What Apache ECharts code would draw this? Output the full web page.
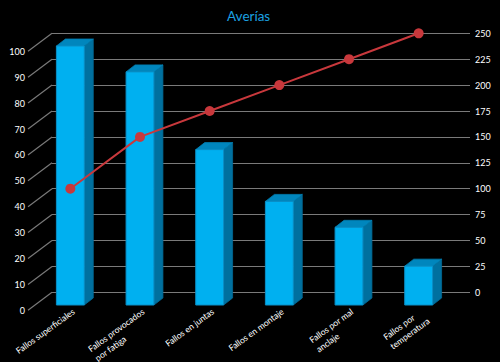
<!DOCTYPE html>
<html><head><meta charset="utf-8">
<script src="https://cdn.jsdelivr.net/npm/echarts@6/dist/echarts.min.js"></script>
<style>html,body{margin:0;background:#000}#c{width:500px;height:362px}</style>
</head><body><div id="c"></div>
<script>
const categories = ['Fallos superficiales', 'Fallos provocados\npor fatiga', 'Fallos en juntas', 'Fallos en montaje', 'Fallos por mal\nanclaje', 'Fallos por\ntemperatura'];
const barValues = [100, 90, 60, 40, 30, 15];
const lineValues = [100, 150, 175, 200, 225, 250];
const leftTicks = [0, 10, 20, 30, 40, 50, 60, 70, 80, 90, 100];

const FONT = 'Lato';
const chart = echarts.init(document.getElementById('c'), null, {renderer: 'svg'});
const hiddenCat = (g) => ({type: 'category', gridIndex: g, data: categories, show: false});
const g = (o) => Object.assign({containLabel: false, outerBoundsMode: 'none'}, o);
chart.setOption({
  backgroundColor: '#000',
  animation: false,
  title: {text: 'Averías', left: 222, top: 4, textStyle: {color: '#1ba1e2', fontSize: 13.5, fontWeight: 'normal', fontFamily: FONT}},
  grid: [
    g({left: 52, right: 30, top: 33.3, bottom: 69.7}),
    g({left: 28, right: 54, top: 51.3, bottom: 51.7}),
    g({left: 35.5, right: 46.5, top: 46, bottom: 57}),
    g({left: 35.5, right: 46.5, top: 33.3, bottom: 69.7})
  ],
  xAxis: [
    hiddenCat(0),
    {type: 'value', gridIndex: 1, show: false},
    {type: 'category', gridIndex: 2, data: categories,
      axisLine: {show: false}, axisTick: {show: false},
      axisLabel: {interval: 0, rotate: 36, margin: 1, align: 'right', verticalAlign: 'top',
        color: '#fff', fontSize: 8.6, fontFamily: FONT,
        formatter: (v) => v.split('\n').map(s => '{l|' + s + '}').join('\n'),
        rich: {l: {align: 'left', color: '#fff', fontSize: 8.6, fontFamily: FONT, lineHeight: 11.5}}}},
    hiddenCat(3)
  ],
  yAxis: [
    {type: 'value', gridIndex: 0, position: 'right', min: 0, max: 250, interval: 25,
      axisLine: {show: false}, axisTick: {show: false},
      axisLabel: {margin: 5, color: '#fff', fontSize: 9, fontFamily: FONT},
      splitLine: {lineStyle: {color: '#7a7a7a', width: 1.2}}},
    {type: 'value', gridIndex: 0, min: 0, max: 100, show: false},
    {type: 'value', gridIndex: 1, min: 0, max: 100, interval: 10,
      axisLine: {show: false}, axisTick: {show: false}, splitLine: {show: false},
      axisLabel: {margin: 3, color: '#fff', fontSize: 9, fontFamily: FONT}},
    {type: 'value', gridIndex: 2, min: 0, max: 100, show: false},
    {type: 'value', gridIndex: 3, min: 0, max: 250, show: false}
  ],
  series: [
    {type: 'custom', xAxisIndex: 0, yAxisIndex: 1, silent: true, z: 1,
      data: leftTicks.map(t => [0, t]),
      renderItem(params, api) {
        const y = api.coord([0, api.value(1)])[1];
        const x = params.coordSys.x;
        return {type: 'line', shape: {x1: x - 24, y1: y + 18, x2: x, y2: y}, style: {stroke: '#7a7a7a', lineWidth: 1.2}};
      }},
    {type: 'custom', xAxisIndex: 2, yAxisIndex: 3, z: 2,
      data: barValues.map((v, i) => [i, v]),
      renderItem(params, api) {
        const i = api.value(0), v = api.value(1);
        const top = api.coord([i, v]);
        const base = api.coord([i, 0]);
        const w = api.size([1, 0])[0] * 0.4;
        const x0 = top[0] - w / 2, x1 = top[0] + w / 2;
        const dx = 9, dy = -7;
        return {type: 'group', children: [
          {type: 'polygon', shape: {points: [[x1, top[1]], [x1 + dx, top[1] + dy], [x1 + dx, base[1] + dy], [x1, base[1]]]}, style: {fill: '#00709f', stroke: '#006a96', lineWidth: 0.8}},
          {type: 'polygon', shape: {points: [[x0, top[1]], [x0 + dx, top[1] + dy], [x1 + dx, top[1] + dy], [x1, top[1]]]}, style: {fill: '#0086bd', stroke: '#007fb3', lineWidth: 0.8}},
          {type: 'rect', shape: {x: x0, y: top[1], width: w, height: base[1] - top[1]}, style: {fill: '#00b0f0', stroke: '#0a8fc6', lineWidth: 1}}
        ]};
      }},
    {type: 'line', xAxisIndex: 3, yAxisIndex: 4, z: 5, data: lineValues,
      symbol: 'circle', symbolSize: 10,
      lineStyle: {color: '#c8383c', width: 2},
      itemStyle: {color: '#c8383c'}}
  ]
});
</script></body></html>
